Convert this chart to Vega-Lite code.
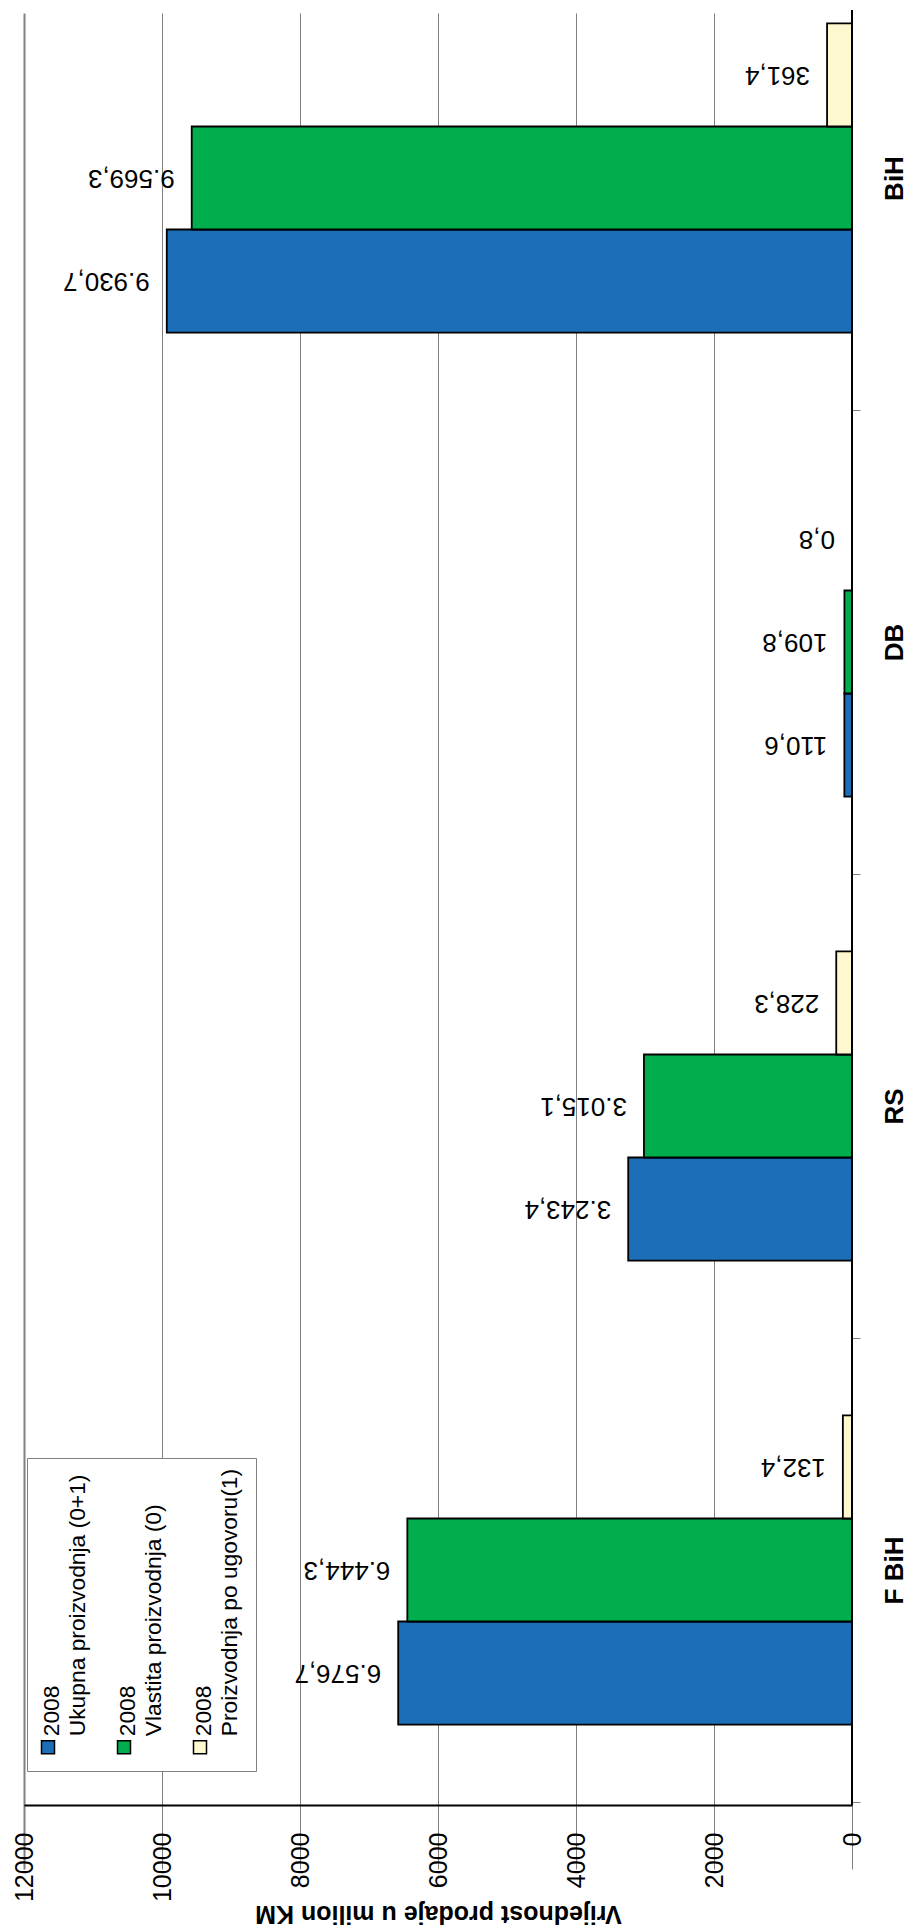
{
  "$schema": "https://vega.github.io/schema/vega-lite/v6.json",
  "width": 828,
  "height": 1795,
  "autosize": "none",
  "padding": {"left": 24, "top": 10, "right": 55, "bottom": 125},
  "config": {
    "view": {"stroke": null},
    "font": "Liberation Sans",
    "locale": {"number": {"decimal": ",", "thousands": ".", "grouping": [3], "currency": ["", ""]}}
  },
  "data": {
    "values": [
      {"region": "F BiH", "series": "Ukupna proizvodnja (0+1)", "value": 6576.7},
      {"region": "F BiH", "series": "Vlastita proizvodnja (0)", "value": 6444.3},
      {"region": "F BiH", "series": "Proizvodnja po ugovoru(1)", "value": 132.4},
      {"region": "RS", "series": "Ukupna proizvodnja (0+1)", "value": 3243.4},
      {"region": "RS", "series": "Vlastita proizvodnja (0)", "value": 3015.1},
      {"region": "RS", "series": "Proizvodnja po ugovoru(1)", "value": 228.3},
      {"region": "DB", "series": "Ukupna proizvodnja (0+1)", "value": 110.6},
      {"region": "DB", "series": "Vlastita proizvodnja (0)", "value": 109.8},
      {"region": "DB", "series": "Proizvodnja po ugovoru(1)", "value": 0.8},
      {"region": "BiH", "series": "Ukupna proizvodnja (0+1)", "value": 9930.7},
      {"region": "BiH", "series": "Vlastita proizvodnja (0)", "value": 9569.3},
      {"region": "BiH", "series": "Proizvodnja po ugovoru(1)", "value": 361.4}
    ]
  },
  "encoding": {
    "y": {
      "field": "region",
      "type": "nominal",
      "sort": ["BiH", "DB", "RS", "F BiH"],
      "scale": {"range": [-64, 1792], "paddingInner": 0, "paddingOuter": 0},
      "axis": {
        "orient": "right",
        "title": null,
        "domain": false,
        "grid": false,
        "ticks": true,
        "tickBand": "extent",
        "tickSize": 8,
        "tickColor": "#808080",
        "tickWidth": 1,
        "labelAngle": 270,
        "labelAlign": "center",
        "labelBaseline": "middle",
        "labelFontSize": 26,
        "labelFontWeight": "bold",
        "labelColor": "black",
        "labelPadding": 34
      }
    },
    "yOffset": {
      "field": "series",
      "sort": ["Proizvodnja po ugovoru(1)", "Vlastita proizvodnja (0)", "Ukupna proizvodnja (0+1)"],
      "scale": {"paddingInner": 0, "paddingOuter": 0.752}
    },
    "x": {
      "field": "value",
      "type": "quantitative",
      "scale": {"domain": [0, 12000], "reverse": true, "nice": false},
      "axis": {
        "values": [0, 2000, 4000, 6000, 8000, 10000, 12000],
        "format": "d",
        "grid": true,
        "gridColor": "#808080",
        "gridWidth": {"condition": {"test": "datum.value === 12000", "value": 2}, "value": 1},
        "domainColor": "black",
        "domainWidth": 2,
        "tickColor": "#808080",
        "tickSize": 7,
        "labelAngle": 270,
        "labelAlign": "right",
        "labelBaseline": "middle",
        "labelFontSize": 25,
        "labelColor": "black",
        "labelPadding": 20,
        "title": "Vrijednost prodaje u milion KM",
        "titleFontSize": 25,
        "titleFontWeight": "bold",
        "titleColor": "black",
        "titleAngle": 180,
        "titleBaseline": "alphabetic",
        "titleAlign": "center",
        "titleX": 414,
        "titleY": 100
      }
    }
  },
  "layer": [
    {
      "mark": {"type": "bar", "stroke": "black", "strokeWidth": 1.8},
      "encoding": {
        "color": {
          "field": "series",
          "type": "nominal",
          "scale": {
            "domain": ["Ukupna proizvodnja (0+1)", "Vlastita proizvodnja (0)", "Proizvodnja po ugovoru(1)"],
            "range": ["#1B6EB7", "#00AE4E", "#FDF8CF"]
          },
          "legend": {
            "orient": "none",
            "legendX": 3,
            "legendY": 1448,
            "direction": "horizontal",
            "title": null,
            "symbolType": "square",
            "symbolSize": 169,
            "symbolStrokeColor": "black",
            "symbolStrokeWidth": 1.5,
            "labelFontSize": 22.8,
            "labelColor": "black",
            "labelLimit": 0,
            "labelExpr": "['2008', datum.label]",
            "fillColor": "white",
            "strokeColor": "#808080",
            "padding": 14,
            "columnPadding": 24,
            "encode": {
              "symbols": {"update": {"x": {"value": 7}, "y": {"value": 275}}},
              "labels": {
                "update": {
                  "angle": {"value": 270},
                  "align": {"value": "left"},
                  "baseline": {"value": "top"},
                  "x": {"value": 0},
                  "y": {"value": 264},
                  "lineHeight": {"value": 26}
                }
              }
            }
          }
        }
      }
    },
    {
      "mark": {"type": "text", "angle": 180, "align": "left", "baseline": "middle", "dx": 17, "fontSize": 26, "color": "black"},
      "encoding": {
        "text": {"field": "value", "type": "quantitative", "format": ",.1f"}
      }
    },
    {
      "mark": {"type": "rule", "color": "black", "strokeWidth": 2},
      "encoding": {"x": {"datum": 0}, "y": null, "yOffset": null}
    }
  ]
}
